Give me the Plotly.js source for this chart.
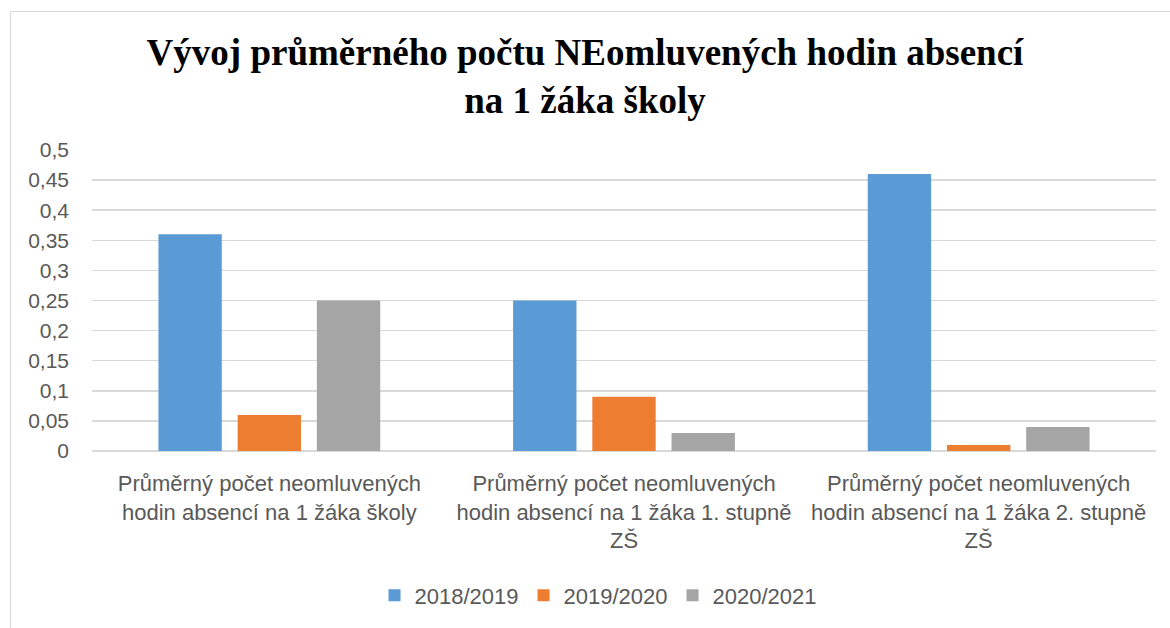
<!DOCTYPE html>
<html>
<head>
<meta charset="utf-8">
<script src="https://cdn.plot.ly/plotly-3.0.1.min.js"></script>
<style>
html,body{margin:0;padding:0;background:#fff;overflow:hidden;}
#frame{position:absolute;left:10px;top:11px;width:1200px;height:700px;border-left:1px solid #d9d9d9;border-top:1px solid #d9d9d9;}
#chart{position:absolute;left:0;top:0;width:1170px;height:628px;}
</style>
</head>
<body>
<div id="frame"></div>
<div id="chart"></div>
<script>
var categories = [
  "Průměrný počet neomluvených<br>hodin absencí na 1 žáka školy",
  "Průměrný počet neomluvených<br>hodin absencí na 1 žáka 1. stupně<br>ZŠ",
  "Průměrný počet neomluvených<br>hodin absencí na 1 žáka 2. stupně<br>ZŠ"
];
var seriesNames = ["2018/2019", "2019/2020", "2020/2021"];
var values2018 = [0.36, 0.25, 0.46];
var values2019 = [0.06, 0.09, 0.01];
var values2020 = [0.25, 0.03, 0.04];
var colors = ["#5B9BD5", "#ED7D31", "#A5A5A5"];
var yTicks = [0, 0.05, 0.1, 0.15, 0.2, 0.25, 0.3, 0.35, 0.4, 0.45, 0.5];

var all = [values2018, values2019, values2020];
var traces = all.map(function(v, i){
  return {type:'bar', x:categories, y:v, name:seriesNames[i], marker:{color:colors[i]}, hoverinfo:'none'};
});

var layout = {
  width:1170, height:628,
  paper_bgcolor:'rgba(0,0,0,0)', plot_bgcolor:'rgba(0,0,0,0)',
  separators:', ',
  margin:{l:92, r:14, t:150, b:175},
  barmode:'group', bargap:0.33, bargroupgap:0.2,
  title:{text:"Vývoj průměrného počtu NEomluvených hodin absencí<br>na 1 žáka školy",
    font:{family:"Liberation Serif, Times New Roman, serif", size:37, color:"#000", weight:'bold'},
    x:0.5, xanchor:'center', y:1-65/628, yanchor:'top', yref:'container'},
  font:{family:"Liberation Sans, Arial, sans-serif", color:"#595959"},
  xaxis:{tickfont:{size:22, color:"#595959"}, showline:false, showgrid:false, ticks:'', ticklabelstandoff:17, fixedrange:true, automargin:false},
  yaxis:{range:[0,0.5], tickvals:yTicks, tickfont:{size:21, color:"#595959"}, gridcolor:"#d9d9d9", gridwidth:1.5,
    zeroline:true, zerolinecolor:"#d9d9d9", zerolinewidth:1.5, showline:false, ticks:'', ticklabelstandoff:22, automargin:false, fixedrange:true},
  legend:{orientation:'h', x:0.4756, xanchor:'center', y:-0.48, yanchor:'middle', font:{size:22, color:"#595959"}, itemwidth:30, traceorder:'normal'},
  showlegend:true
};
Plotly.newPlot('chart', traces, layout, {displayModeBar:false, staticPlot:true});
</script>
</body>
</html>
